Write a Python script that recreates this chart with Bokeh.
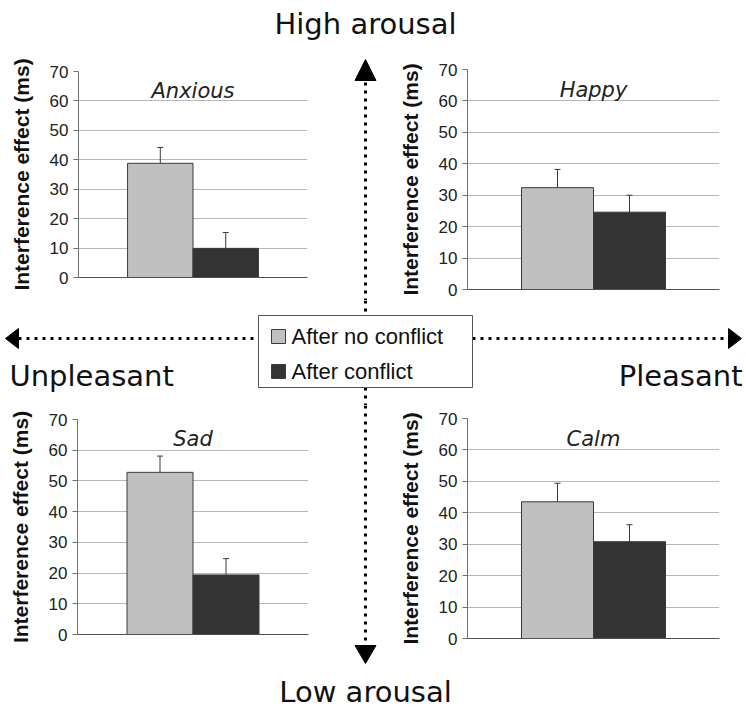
from bokeh.plotting import figure
from bokeh.layouts import column, row
from bokeh.models import Range1d, FixedTicker, ColumnDataSource
from bokeh.core.properties import value
from bokeh.embed import file_html
from bokeh.resources import INLINE

# ---------------- data ----------------
emotions = ["Anxious", "Happy", "Sad", "Calm"]
conditions = ["After no conflict", "After conflict"]
no_conflict = [38.8, 32.4, 52.8, 43.5]
no_conflict_err = [5.4, 5.8, 5.3, 5.9]
after_conflict = [9.9, 24.6, 19.4, 30.8]
after_conflict_err = [5.4, 5.4, 5.3, 5.4]
y_ticks = [0, 10, 20, 30, 40, 50, 60, 70]
y_axis_label = "Interference effect (ms)"
high_label, low_label = "High arousal", "Low arousal"
left_label, right_label = "Unpleasant", "Pleasant"

bar_colors = ["#c0c0c0", "#333333"]
EDGE = "#3a3a3a"
DECO_FONT = "DejaVu Sans"
CHART_FONT = "Liberation Sans"


def panel(i, width, height, left, right, top, bottom):
    p = figure(width=width, height=height,
               x_range=Range1d(-0.75, 2.75), y_range=Range1d(0, 70),
               output_backend="svg", toolbar_location=None, title=None,
               sizing_mode="fixed", frame_align=False,
               min_border_left=left, min_border_right=right,
               min_border_top=top, min_border_bottom=bottom)
    p.outline_line_color = None
    p.background_fill_color = "white"
    p.border_fill_color = "white"
    xs = [k + 0.5 for k in range(len(conditions))]
    vals = [no_conflict[i], after_conflict[i]]
    errs = [no_conflict_err[i], after_conflict_err[i]]
    uppers = [v + e for v, e in zip(vals, errs)]
    src = ColumnDataSource(dict(x=xs, top=vals, upper=uppers,
                                color=bar_colors, cond=conditions))
    p.vbar(x="x", top="top", bottom=0, width=1.0, fill_color="color",
           line_color=EDGE, line_width=1, source=src)
    p.segment(x0="x", y0="top", x1="x", y1="upper", line_color=EDGE,
              line_width=1, source=src)
    p.scatter(x="x", y="upper", marker="dash", size=6, line_color=EDGE,
              line_width=1, source=src)
    p.text(x=[1.0], y=[63.5], text=[emotions[i]], text_align="center",
           text_baseline="middle", text_font=value(DECO_FONT),
           text_font_style="italic", text_font_size="21px", text_color="#222222")

    yax = p.yaxis[0]
    yax.ticker = FixedTicker(ticks=y_ticks)
    yax.axis_label = y_axis_label
    yax.axis_label_text_font = CHART_FONT
    yax.axis_label_text_font_style = "bold"
    yax.axis_label_text_font_size = "21px"
    yax.axis_label_text_color = "#111111"
    yax.axis_label_standoff = 14
    yax.major_label_text_font = CHART_FONT
    yax.major_label_text_font_size = "17px"
    yax.major_label_text_color = "#222222"
    yax.major_label_standoff = 5
    yax.major_tick_out = 5
    yax.major_tick_in = 0
    yax.minor_tick_line_color = None
    yax.axis_line_color = "#707070"
    yax.major_tick_line_color = "#707070"

    xax = p.xaxis[0]
    xax.ticker = FixedTicker(ticks=[])
    xax.axis_line_color = "#505050"
    xax.major_tick_line_color = None
    xax.minor_tick_line_color = None

    p.xgrid.grid_line_color = None
    p.ygrid.ticker = FixedTicker(ticks=y_ticks)
    p.ygrid.grid_line_color = "#b8b8b8"
    p.ygrid.grid_line_width = 1.2
    return p


def deco(w, h):
    p = figure(width=w, height=h, x_range=Range1d(0, w), y_range=Range1d(h, 0),
               output_backend="svg", toolbar_location=None, title=None,
               sizing_mode="fixed", frame_align=False,
               x_axis_location=None, y_axis_location=None,
               min_border=0, min_border_left=0, min_border_right=0,
               min_border_top=0, min_border_bottom=0)
    p.outline_line_color = None
    p.grid.visible = False
    p.background_fill_color = "white"
    p.border_fill_color = "white"
    return p


DOT = dict(line_color="black", line_width=3, line_dash="3 5")
TXT = dict(text_font=value(DECO_FONT), text_font_size="29px", text_color="#111111",
           text_baseline="middle")
HEAD = dict(fill_color="black", line_color="black")

# top strip (page y 0..50)
top_strip = deco(746, 50)
top_strip.text(x=[365], y=[23], text=[high_label], text_align="center", **TXT)

# top row (page y 50..300)
tl = panel(0, 330, 250, 78, 23, 21, 23)
tr = panel(1, 351, 250, 72, 27, 19, 11)
mid1 = deco(65, 250)
mid1.patch(x=[35, 24.5, 45.5], y=[9, 30, 30], **HEAD)
mid1.line(x=[35, 35], y=[32, 250], **DOT)

# middle strip (page y 300..405)
mid_strip = deco(746, 105)
mid_strip.line(x=[18, 258], y=[38, 38], **DOT)
mid_strip.line(x=[472, 728], y=[38, 38], **DOT)
mid_strip.patch(x=[5, 18, 18], y=[38, 28, 48], **HEAD)
mid_strip.patch(x=[741, 728, 728], y=[38, 28, 48], **HEAD)
mid_strip.line(x=[365, 365], y=[0, 15], **DOT)
mid_strip.line(x=[365, 365], y=[87, 105], **DOT)
mid_strip.quad(left=[258], right=[472], top=[15], bottom=[87], fill_color="white",
               line_color="#555555", line_width=1)
mid_strip.scatter(x=[278, 278], y=[36, 71], marker="square", size=14,
                  fill_color=bar_colors, line_color=EDGE, line_width=1)
mid_strip.text(x=[291, 291], y=[36, 71], text=conditions, text_align="left",
               text_baseline="middle", text_font=value(CHART_FONT),
               text_font_size="22px", text_color="#111111")
mid_strip.text(x=[9], y=[75], text=[left_label], text_align="left", **TXT)
mid_strip.text(x=[742], y=[75], text=[right_label], text_align="right", **TXT)

# bottom row (page y 405..665)
bl = panel(2, 330, 260, 77, 22, 14, 31)
br = panel(3, 351, 260, 71, 27, 13, 27)
mid2 = deco(65, 260)
mid2.line(x=[35, 35], y=[0, 238], **DOT)
mid2.patch(x=[35, 24.5, 45.5], y=[258, 240, 240], **HEAD)

# bottom strip (page y 665..708)
bot_strip = deco(746, 43)
bot_strip.text(x=[365], y=[26], text=[low_label], text_align="center", **TXT)

layout = column(top_strip, row(tl, mid1, tr, spacing=0), mid_strip,
                row(bl, mid2, br, spacing=0), bot_strip, spacing=0)

with open("out.html", "w") as f:
    f.write(file_html(layout, INLINE))
